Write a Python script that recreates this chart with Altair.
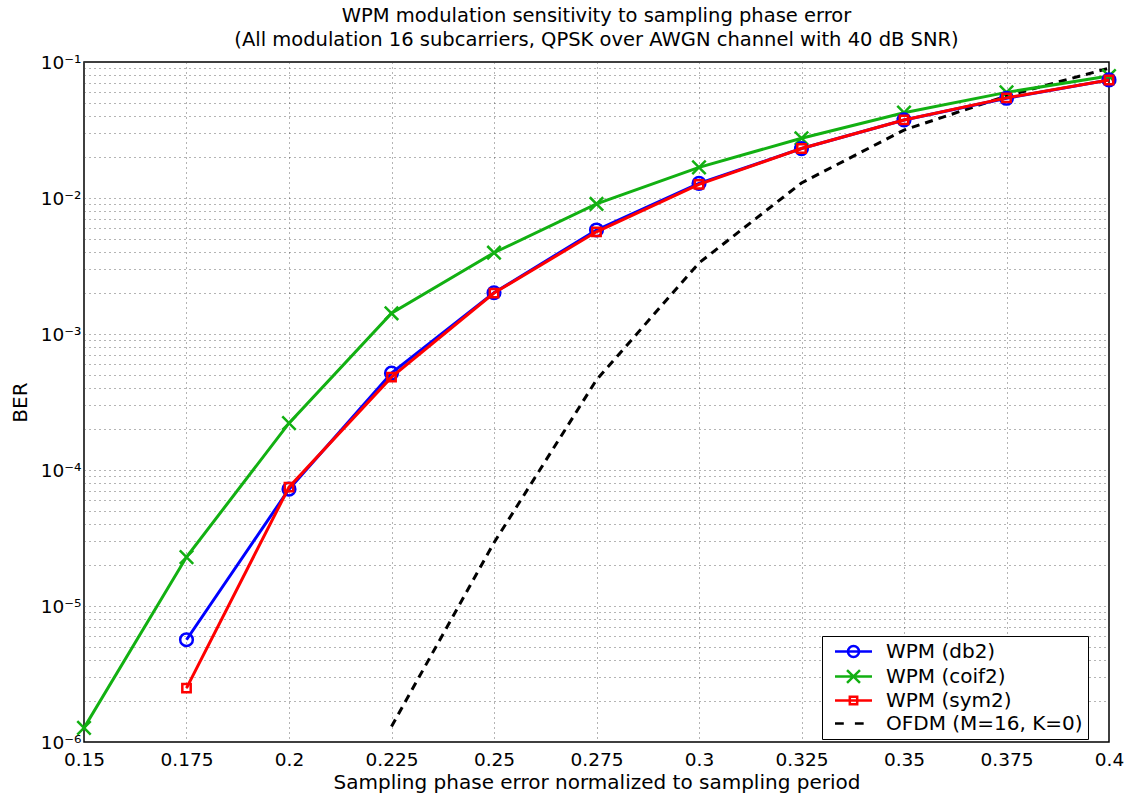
import altair as alt
import pandas as pd

# ---------------- data ----------------
x_vals = [0.15, 0.175, 0.2, 0.225, 0.25, 0.275, 0.3, 0.325, 0.35, 0.375, 0.4]
ber_db2 = [None, 5.65e-6, 7.23e-5, 5.15e-4, 2.01e-3, 5.82e-3, 1.28e-2, 2.31e-2, 3.75e-2, 5.41e-2, 7.38e-2]
ber_coif2 = [1.27e-6, 2.29e-5, 2.21e-4, 1.42e-3, 3.96e-3, 9.04e-3, 1.68e-2, 2.75e-2, 4.24e-2, 5.98e-2, 7.88e-2]
ber_sym2 = [None, 2.49e-6, 7.48e-5, 4.82e-4, 2.00e-3, 5.64e-3, 1.26e-2, 2.31e-2, 3.75e-2, 5.45e-2, 7.38e-2]
ber_ofdm = [None, None, None, 1.30e-6, 2.92e-5, 4.6e-4, 3.33e-3, 1.29e-2, 3.16e-2, 5.62e-2, 9.0e-2]

series_names = ["WPM (db2)", "WPM (coif2)", "WPM (sym2)", "OFDM (M=16, K=0)"]
series_colors = ["#0000ff", "#12b012", "#ff0000", "#000000"]
series_values = [ber_db2, ber_coif2, ber_sym2, ber_ofdm]

x_ticks = [0.15, 0.175, 0.2, 0.225, 0.25, 0.275, 0.3, 0.325, 0.35, 0.375, 0.4]
y_exponents = [-6, -5, -4, -3, -2, -1]
y_grid = [m * 10.0 ** e for e in y_exponents[:-1] for m in range(1, 10)] + [0.1]

title_lines = [
    "WPM modulation sensitivity to sampling phase error",
    "(All modulation 16 subcarriers, QPSK over AWGN channel with 40 dB SNR)",
]
x_title = "Sampling phase error normalized to sampling period"
y_title = "BER"

rows = []
for name, vals in zip(series_names, series_values):
    for xv, v in zip(x_vals, vals):
        if v is not None:
            rows.append({"series": name, "x": xv, "ber": v})
df = pd.DataFrame(rows)

FONT = "DejaVu Sans"
W, H = 1025, 680

sup = {-1: "\u207b\u00b9", -2: "\u207b\u00b2", -3: "\u207b\u00b3",
       -4: "\u207b\u2074", -5: "\u207b\u2075", -6: "\u207b\u2076"}
label_list = "['', " + ", ".join("'10" + sup[-k] + "'" for k in range(1, 7)) + "]"
y_label_expr = (
    "abs(log(datum.value)/LN10 - round(log(datum.value)/LN10)) < 0.001 ? "
    + label_list + "[-round(log(datum.value)/LN10)] : ''"
)

x_axis = alt.Axis(
    values=x_ticks, labelExpr="format(datum.value, '.3~f')", title=x_title,
    grid=True, gridDash=[1, 4], gridColor="#444444", gridOpacity=0.8, gridWidth=1,
    domain=False, ticks=False, tickSize=0,
    labelFont=FONT, labelFontSize=18.5, labelColor="black", labelPadding=8,
    labelFlush=False, labelOverlap=False,
    titleFont=FONT, titleFontSize=20, titleFontWeight="normal", titleColor="black",
    titleX=W / 2, titleY=46, titleBaseline="alphabetic", titleAnchor="middle",
)
y_axis = alt.Axis(
    values=y_grid, labelExpr=y_label_expr, title=y_title,
    grid=True, gridDash=[1, 4], gridColor="#444444", gridOpacity=0.8, gridWidth=1,
    domain=False, ticks=False, tickSize=0,
    labelFont=FONT, labelFontSize=18.5, labelColor="black", labelPadding=3,
    labelOverlap=False, labelFlush=False,
    titleFont=FONT, titleFontSize=20, titleFontWeight="normal", titleColor="black",
    titleX=-64, titleY=H / 2, titleBaseline="middle", titleAlign="center",
)

X = alt.X("x:Q", scale=alt.Scale(domain=[0.15, 0.4], nice=False, zero=False), axis=x_axis)
Y = alt.Y("ber:Q", scale=alt.Scale(type="log", domain=[1e-6, 1e-1], nice=False), axis=y_axis)

x_path = "M-1,-1L1,1M-1,1L1,-1"
marker_shapes = {"WPM (db2)": ("circle", 160), "WPM (coif2)": (x_path, 180), "WPM (sym2)": ("square", 70)}

layers = []
draw_order = [3, 1, 0, 2]
for i in draw_order:
    name, color = series_names[i], series_colors[i]
    base = alt.Chart(df).transform_filter(alt.datum.series == name)
    if name.startswith("OFDM"):
        line = base.mark_line(color=color, strokeWidth=3, strokeDash=[8, 6], clip=True)
    else:
        line = base.mark_line(color=color, strokeWidth=3, clip=True)
    layers.append(line.encode(x=X, y=Y))
    if name in marker_shapes:
        shp, sz = marker_shapes[name]
        pts = base.mark_point(shape=shp, size=sz, filled=False, color=color,
                              strokeWidth=2.5, opacity=1)
        layers.append(pts.encode(x=X, y=Y))

legend_paths = [
    "M-2,0L2,0M0.6,0A0.6,0.6,0,1,1,-0.6,0A0.6,0.6,0,1,1,0.6,0",
    "M-2,0L2,0M-0.7,-0.7L0.7,0.7M-0.7,0.7L0.7,-0.7",
    "M-2,0L2,0M-0.4,-0.4L0.4,-0.4L0.4,0.4L-0.4,0.4Z",
    "M-2,0L-1.05,0M0.15,0L1.1,0",
]
leg = alt.Legend(
    title=None, orient="none", legendX=738, legendY=574,
    strokeColor="black", fillColor="white", padding=5,
    labelFont=FONT, labelFontSize=20, labelColor="black", labelLimit=400,
    symbolSize=342, symbolStrokeWidth=2.5, symbolOpacity=1,
    symbolOffset=16, labelOffset=22, rowPadding=2,
)
legend_layer = alt.Chart(df).mark_point(filled=False, opacity=0).encode(
    x=X, y=Y,
    color=alt.Color("series:N", scale=alt.Scale(domain=series_names, range=series_colors), legend=leg),
    shape=alt.Shape("series:N", scale=alt.Scale(domain=series_names, range=legend_paths), legend=leg),
)
layers.append(legend_layer)

chart = alt.layer(*layers).properties(
    width=W, height=H,
    title=alt.TitleParams(text=title_lines, anchor="middle", font=FONT, fontSize=19.5,
                          fontWeight="normal", color="black", lineHeight=24, offset=3),
    padding={"left": 84, "top": 62, "right": 22, "bottom": 55},
    autosize=alt.AutoSizeParams(type="none"),
    background="white",
).configure_view(stroke="black", strokeWidth=1.5)

chart.save("out.html", embed_options={"renderer": "svg", "actions": False})
